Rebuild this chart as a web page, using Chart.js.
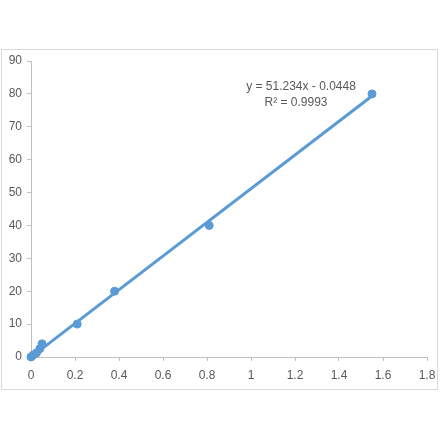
<!DOCTYPE html>
<html><head><meta charset="utf-8">
<script src="https://cdn.jsdelivr.net/npm/chart.js@4"></script>
<style>html,body{margin:0;padding:0;background:#fff}#wrap{width:440px;height:441px}</style>
</head><body><div id="wrap"><canvas id="c"></canvas></div>
<script>
const xValues = [0, 0.01, 0.025, 0.04, 0.05, 0.21, 0.38, 0.81, 1.55];
const yValues = [0, 0.6, 1.25, 2.5, 4, 10, 20, 40, 80];
const trendX = [0, 1.55];
const trendY = [-0.045, 79.37];
const equationLines = ['y = 51.234x - 0.0448', 'R² = 0.9993'];
const xTicks = [0, 0.2, 0.4, 0.6, 0.8, 1, 1.2, 1.4, 1.6, 1.8];
const yTicks = [0, 10, 20, 30, 40, 50, 60, 70, 80, 90];

const blue = '#5b9bd5';
const gray = '#595959';
const axisCol = '#bfbfbf';
const fontFam = '"Liberation Sans", Arial, sans-serif';

const frame = {
  id: 'frame',
  beforeDraw(chart) {
    const ctx = chart.ctx;
    ctx.save();
    ctx.fillStyle = '#fff';
    ctx.fillRect(0, 0, chart.width, chart.height);
    ctx.strokeStyle = '#d9d9d9';
    ctx.lineWidth = 1;
    ctx.strokeRect(1.5, 49.5, 436, 340);
    ctx.restore();
  },
  afterDraw(chart) {
    const ctx = chart.ctx;
    ctx.save();
    ctx.fillStyle = gray;
    ctx.font = '12px ' + fontFam;
    ctx.textAlign = 'center';
    ctx.textBaseline = 'middle';
    ctx.fillText(equationLines[0], 301, 87);
    ctx.fillText(equationLines[1], 296, 103);
    ctx.restore();
  }
};

new Chart(document.getElementById('c'), {
  type: 'scatter',
  data: {
    datasets: [
      {
        data: trendX.map((x, i) => ({x, y: trendY[i]})),
        showLine: true,
        borderColor: blue,
        borderWidth: 3,
        pointRadius: 0,
        fill: false,
        clip: false
      },
      {
        data: xValues.map((x, i) => ({x, y: yValues[i]})),
        showLine: false,
        backgroundColor: blue,
        borderColor: blue,
        pointRadius: 4,
        pointHoverRadius: 4,
        clip: false
      }
    ]
  },
  options: {
    responsive: true,
    maintainAspectRatio: false,
    animation: false,
    layout: { padding: { left: 0, right: 13, top: 61, bottom: 54 } },
    plugins: { legend: { display: false }, tooltip: { enabled: false } },
    scales: {
      x: {
        type: 'linear', min: 0, max: 1.8,
        afterBuildTicks(s) { s.ticks = xTicks.map(v => ({value: v})); },
        afterFit(s) { s.height = 30; s.paddingLeft = 0; s.paddingRight = 0; },
        border: { color: axisCol, width: 1 },
        grid: { drawOnChartArea: false, drawTicks: true, tickLength: 4, color: axisCol },
        ticks: {
          color: gray, padding: 7,
          font: { size: 12, family: fontFam },
          callback: v => String(Math.round(v * 10) / 10)
        }
      },
      y: {
        type: 'linear', min: 0, max: 90,
        afterBuildTicks(s) { s.ticks = yTicks.map(v => ({value: v})); },
        afterFit(s) { s.width = 31; s.paddingTop = 0; s.paddingBottom = 0; },
        border: { color: axisCol, width: 1 },
        grid: { drawOnChartArea: false, drawTicks: true, tickLength: 4, color: axisCol },
        ticks: {
          color: gray, padding: 5,
          font: { size: 12, family: fontFam }
        }
      }
    }
  },
  plugins: [frame]
});
</script></body></html>
